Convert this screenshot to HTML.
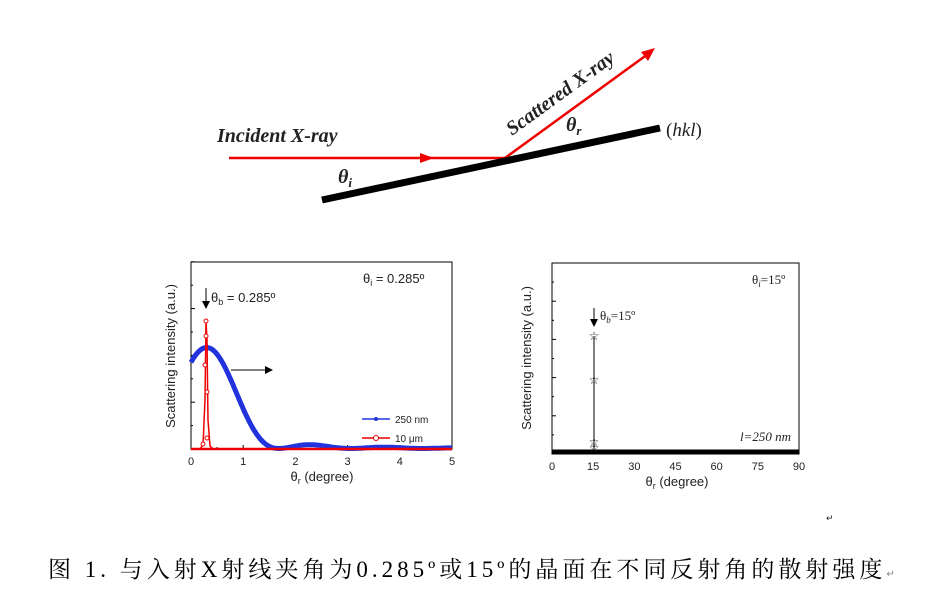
<!DOCTYPE html>
<html><head><meta charset="utf-8"><style>
body{margin:0;background:#fff;width:949px;height:601px;overflow:hidden}
svg{position:absolute;left:0;top:0}
.t{font-family:"Liberation Sans",sans-serif;fill:#222}
.s{font-family:"Liberation Serif",serif;fill:#222}
</style></head><body>
<svg id="g" width="949" height="601" viewBox="0 0 949 601">
<defs><marker id="ah" markerWidth="8" markerHeight="8" refX="7" refY="4" orient="auto" markerUnits="userSpaceOnUse"><path d="M0,0L8,4L0,8z" fill="#000"/></marker></defs>
<line x1="229" y1="158" x2="505" y2="158" stroke="#e00" stroke-width="2.5"/>
<path d="M420,153L434,158L420,163z" fill="#e00"/>
<line x1="505" y1="158" x2="648" y2="54" stroke="#e00" stroke-width="2.5"/>
<path d="M655,48L641,52L648,61z" fill="#e00"/>
<line x1="322" y1="200" x2="660" y2="128" stroke="#000" stroke-width="7"/>
<text x="217" y="142" class="s" font-size="20" font-weight="bold" font-style="italic">Incident X-ray</text>
<text x="338" y="183" class="s" font-size="20" font-weight="bold" font-style="italic">θ<tspan font-size="13" dy="4">i</tspan></text>
<text x="566" y="131" class="s" font-size="20" font-weight="bold" font-style="italic">θ<tspan font-size="13" dy="4">r</tspan></text>
<text x="0" y="0" class="s" font-size="20" font-weight="bold" font-style="italic" transform="translate(512,136) rotate(-36)">Scattered X-ray</text>
<text x="666" y="136" class="s" font-size="19">(<tspan font-style="italic">hkl</tspan>)</text>

<rect x="191" y="262" width="261" height="187" fill="none" stroke="#000" stroke-width="1"/>
<g id="lt"></g>
<path id="blue" fill="none" stroke="#2233dd" stroke-width="5"/>
<path id="red" fill="none" stroke="#e00" stroke-width="1.5" d="M191,449L200,449L203,445L205,400L206,321L207,340L208,420L210,446L213,449L452,449"/>
<line x1="191" y1="449" x2="452" y2="449" stroke="#e00" stroke-width="2.5"/>
<circle cx="206" cy="321" r="2" fill="#fff" stroke="#e00"/><circle cx="206" cy="336" r="2" fill="#fff" stroke="#e00"/><circle cx="205" cy="365" r="2" fill="#fff" stroke="#e00"/><circle cx="207" cy="392" r="2" fill="#fff" stroke="#e00"/><circle cx="207" cy="438" r="2" fill="#fff" stroke="#e00"/><circle cx="203" cy="444" r="2" fill="#fff" stroke="#e00"/>
<line x1="206" y1="288" x2="206" y2="308" stroke="#000" marker-end="url(#ah)"/>
<text x="211" y="302" class="t" font-size="13">θ<tspan font-size="9" dy="3">b</tspan><tspan dy="-3"> = 0.285º</tspan></text>
<text x="363" y="283" class="t" font-size="13">θ<tspan font-size="9" dy="3">i</tspan><tspan dy="-3"> = 0.285º</tspan></text>
<line x1="231" y1="370" x2="272" y2="370" stroke="#000" marker-end="url(#ah)"/>
<line x1="362" y1="419" x2="390" y2="419" stroke="#2233dd" stroke-width="1.5"/><circle cx="376" cy="419" r="2" fill="#2233dd"/>
<text x="395" y="423" class="t" font-size="10">250 nm</text>
<line x1="362" y1="438" x2="390" y2="438" stroke="#e00" stroke-width="1.5"/><circle cx="376" cy="438" r="2.5" fill="#fff" stroke="#e00"/>
<text x="395" y="442" class="t" font-size="10">10 μm</text>
<text class="t" font-size="13" transform="translate(175,356) rotate(-90)" text-anchor="middle">Scattering intensity (a.u.)</text>
<text x="322" y="481" class="t" font-size="13" text-anchor="middle">θ<tspan font-size="9" dy="3">r</tspan><tspan dy="-3"> (degree)</tspan></text>

<rect x="552" y="263" width="247" height="191" fill="none" stroke="#000" stroke-width="1"/>
<g id="rt"></g>
<line x1="552" y1="452" x2="799" y2="452" stroke="#000" stroke-width="5"/>
<line x1="594" y1="336" x2="594" y2="452" stroke="#000" stroke-width="1"/>
<text x="594" y="340" class="s" font-size="12" text-anchor="middle" fill="#000">☆</text>
<text x="594" y="384" class="s" font-size="12" text-anchor="middle" fill="#000">☆</text>
<text x="594" y="446" class="s" font-size="12" text-anchor="middle" fill="#000">☆</text>
<text x="594" y="452" class="s" font-size="12" text-anchor="middle" fill="#000">☆</text>
<line x1="594" y1="308" x2="594" y2="326" stroke="#000" marker-end="url(#ah)"/>
<text x="600" y="320" class="s" font-size="13">θ<tspan font-size="9" dy="3" font-style="italic">b</tspan><tspan dy="-3">=15º</tspan></text>
<text x="752" y="284" class="s" font-size="13">θ<tspan font-size="9" dy="3" font-style="italic">i</tspan><tspan dy="-3">=15º</tspan></text>
<text x="791" y="441" class="s" font-size="13" font-style="italic" text-anchor="end">l=250 nm</text>
<text class="t" font-size="13" transform="translate(531,358) rotate(-90)" text-anchor="middle">Scattering intensity (a.u.)</text>
<text x="677" y="486" class="t" font-size="13" text-anchor="middle">θ<tspan font-size="9" dy="3">r</tspan><tspan dy="-3"> (degree)</tspan></text>

<text x="826" y="521" font-size="9" fill="#888" class="s">↵</text>
<text x="48" y="577" font-family="Liberation Serif,'Noto Serif CJK SC',serif" font-size="23" fill="#000" letter-spacing="4">图 1. 与入射X射线夹角为0.285º或15º的晶面在不同反射角的散射强度<tspan font-size="10" fill="#888" letter-spacing="0">↵</tspan></text>
</svg>
<script>
var ns="http://www.w3.org/2000/svg";
function add(p,tag,a,txt){var e=document.createElementNS(ns,tag);for(var k in a)e.setAttribute(k,a[k]);if(txt!=null)e.textContent=txt;p.appendChild(e);}
var lt=document.getElementById('lt');
for(var i=0;i<=5;i++){var x=191+i*52.2;add(lt,'line',{x1:x,y1:449,x2:x,y2:445,stroke:'#000'});add(lt,'text',{x:x,y:465,'class':'t','font-size':11,'text-anchor':'middle'},i);
 if(i<5)add(lt,'line',{x1:x+26.1,y1:449,x2:x+26.1,y2:447,stroke:'#000'});}
for(var j=0;j<=8;j++){var y=449-j*23.4;add(lt,'line',{x1:191,y1:y,x2:j%2?193:195,y2:y,stroke:'#000'});}
var rt=document.getElementById('rt');
for(var i=0;i<=6;i++){var x=552+i*41.17;add(rt,'line',{x1:x,y1:454,x2:x,y2:450,stroke:'#000'});add(rt,'text',{x:x,y:470,'class':'t','font-size':11,'text-anchor':'middle'},i*15);}
for(var j=0;j<=10;j++){var y=454-j*19.1;add(rt,'line',{x1:552,y1:y,x2:j%2?554:556,y2:y,stroke:'#000'});}
var d='';for(var xv=0;xv<=5;xv+=0.02){var u=Math.PI*(xv-0.3)/1.38,s=Math.abs(u)<1e-6?1:Math.sin(u)/u;var v=s*s;if(Math.abs(u)>Math.PI)v*=0.8;var y=448.5-101*v;d+=(d?'L':'M')+(191+xv*52.2).toFixed(1)+','+y.toFixed(1);}
document.getElementById('blue').setAttribute('d',d);
</script>
</body></html>
